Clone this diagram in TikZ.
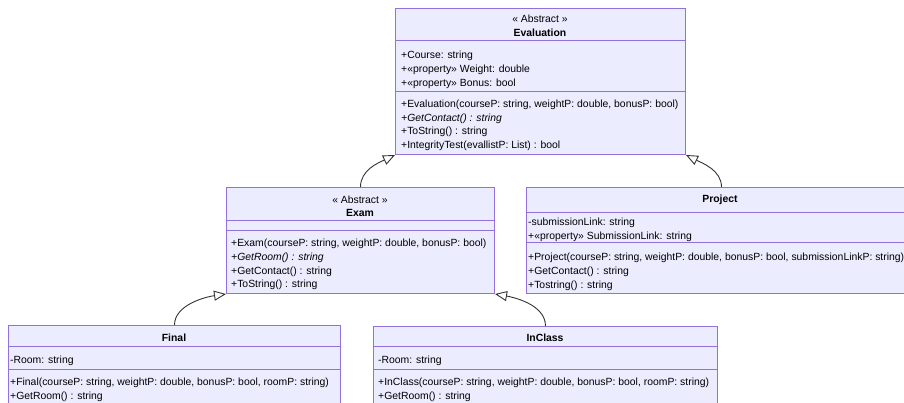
\documentclass[tikz,border=0pt]{standalone}
\usepackage{fontspec}
\setmainfont{Liberation Sans}
\usetikzlibrary{arrows.meta,calc}
\definecolor{boxfill}{HTML}{ECECFF}
\definecolor{boxline}{HTML}{9370DB}
\definecolor{linkcol}{HTML}{333333}
\tikzset{
  classbox/.style={draw=boxline, fill=boxfill, line width=1pt, anchor=north west, inner sep=0pt},
  divider/.style={draw=boxline, line width=1pt},
  txt/.style={anchor=base west, inner sep=0pt, text=black, font=\fontsize{10.4}{12}\selectfont},
  ttl/.style={anchor=base, inner sep=0pt, text=black, font=\fontsize{10.4}{12}\selectfont\bfseries},
  stereo/.style={anchor=base, inner sep=0pt, text=black, font=\fontsize{10.4}{12}\selectfont},
  inherit/.style={draw=linkcol, line width=0.9pt, -{Triangle[open, length=12pt, width=10pt, line width=0.9pt]}}
}
\begin{document}
\begin{tikzpicture}[x=1pt, y=-1pt]
\useasboundingbox (0,0) rectangle (904,403);
\clip (0,0) rectangle (904,403);
% ---------- Evaluation ----------
\node[classbox, minimum width=290pt, minimum height=146pt] (eval) at (395,8) {};
\draw[divider] (395,41) -- (685,41);
\draw[divider] (395,92) -- (685,92);
\node[stereo] (evalst) at (540,22.5) {« Abstract »};
\node[ttl] (evalname) at (540,36.5) {Evaluation};
\node[txt] (ea1) at (401,59) {+Course: string};
\node[txt] (ea2) at (401,72.7) {+«property» Weight: double};
\node[txt] (ea3) at (401,86.4) {+«property» Bonus: bool};
\node[txt] (em1) at (401,107.5) {+Evaluation(courseP: string, weightP: double, bonusP: bool)};
\node[txt] (em2) at (401,121.2) {\itshape +GetContact() : string};
\node[txt] (em3) at (401,135) {+ToString() : string};
\node[txt] (em4) at (401,148.7) {+IntegrityTest(evallistP: List) : bool};
% ---------- Exam ----------
\node[classbox, minimum width=268pt, minimum height=106pt] (exam) at (226,187) {};
\draw[divider] (226,221) -- (494,221);
\draw[divider] (226,231) -- (494,231);
\node[stereo] (examst) at (360,203.5) {« Abstract »};
\node[ttl] (examname) at (360,217) {Exam};
\node[txt] (xm1) at (231,246.5) {+Exam(courseP: string, weightP: double, bonusP: bool)};
\node[txt] (xm2) at (231,260.2) {\itshape +GetRoom() : string};
\node[txt] (xm3) at (231,274) {+GetContact() : string};
\node[txt] (xm4) at (231,287.7) {+ToString() : string};
% ---------- Project ----------
\node[classbox, minimum width=388pt, minimum height=106pt] (proj) at (526,187) {};
\draw[divider] (526,213) -- (914,213);
\draw[divider] (526,243) -- (914,243);
\node[ttl] (projname) at (720,203) {Project};
\node[txt] (pa1) at (528,225.5) {-submissionLink: string};
\node[txt] (pa2) at (528,239.2) {+«property» SubmissionLink: string};
\node[txt] (pm1) at (528,260.5) {+Project(courseP: string, weightP: double, bonusP: bool, submissionLinkP: string)};
\node[txt] (pm2) at (528,274.2) {+GetContact() : string};
\node[txt] (pm3) at (528,288) {+Tostring() : string};
% ---------- Final ----------
\node[classbox, minimum width=332pt, minimum height=100pt] (final) at (8,325) {};
\draw[divider] (8,346) -- (340,346);
\draw[divider] (8,369) -- (340,369);
\node[ttl] (finalname) at (174,341) {Final};
\node[txt] (fa1) at (10,363.5) {-Room: string};
\node[txt] (fm1) at (10,385.5) {+Final(courseP: string, weightP: double, bonusP: bool, roomP: string)};
\node[txt] (fm2) at (10,399.2) {+GetRoom() : string};
% ---------- InClass ----------
\node[classbox, minimum width=344pt, minimum height=100pt] (inclass) at (373,326) {};
\draw[divider] (373,346) -- (717,346);
\draw[divider] (373,369) -- (717,369);
\node[ttl] (inclassname) at (545,341) {InClass};
\node[txt] (ia1) at (378,363.5) {-Room: string};
\node[txt] (im1) at (378,385.5) {+InClass(courseP: string, weightP: double, bonusP: bool, roomP: string)};
\node[txt] (im2) at (378,399.2) {+GetRoom() : string};
% ---------- Inheritance ----------
\draw[inherit] (exam.north) .. controls ($(exam.north)+(0,-17)$) and (378,163) .. (eval.south west);
\draw[inherit] ($(proj.north)+(1,0)$) .. controls ($(proj.north)+(1,-17)$) and (702,163) .. (eval.south east);
\draw[inherit] (final.north) .. controls ($(final.north)+(0,-20)$) and (205,297) .. (exam.south west);
\draw[inherit] (inclass.north) .. controls ($(inclass.north)+(0,-22)$) and (512,297) .. (exam.south east);
\end{tikzpicture}
\end{document}
